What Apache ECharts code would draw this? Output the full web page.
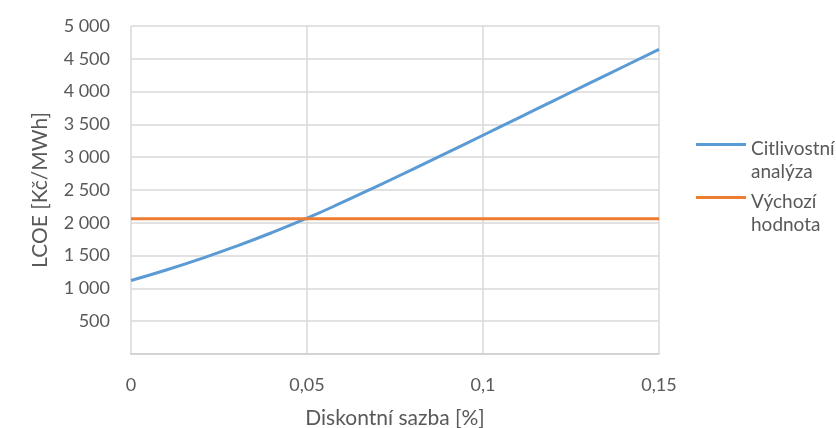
<!DOCTYPE html>
<html>
<head>
<meta charset="utf-8">
<script src="https://cdn.jsdelivr.net/npm/echarts@6/dist/echarts.min.js"></script>
<style>html,body{margin:0;padding:0;background:#fff;}#c{width:836px;height:428px;}</style>
</head>
<body>
<div id="c"></div>
<script>
const rates = [0, 0.01, 0.02, 0.03, 0.04, 0.05, 0.06, 0.07, 0.08, 0.09, 0.10, 0.11, 0.12, 0.13, 0.14, 0.15];
const sensitivity = [1120, 1280, 1455, 1645, 1850, 2070, 2310, 2560, 2815, 3073, 3335, 3597, 3859, 4121, 4383, 4645];
const baseRates = [0, 0.15];
const baseValue = [2060, 2060];
const seriesNames = ['Citlivostní\nanalýza', 'Výchozí\nhodnota'];
const xTitle = 'Diskontní sazba [%]';
const yTitle = 'LCOE [Kč/MWh]';

const txt = '#595959';
const font = 'Lato, "Open Sans", sans-serif';
const chart = echarts.init(document.getElementById('c'));
chart.setOption({
  animation: false,
  grid: { left: 131, right: 177, top: 26, bottom: 74, containLabel: false, outerBoundsMode: 'none' },
  legend: {
    orient: 'vertical', left: 691, top: 132, itemGap: 7,
    itemWidth: 50, itemHeight: 34,
    icon: 'path://M0,0H50V3H0Z M0,33.95H0.02V34H0Z',
    itemStyle: { borderWidth: 0 },
    textStyle: { color: txt, fontSize: 19, lineHeight: 23, fontFamily: font },
    data: seriesNames
  },
  xAxis: {
    type: 'value', min: 0, max: 0.15, interval: 0.05,
    name: xTitle, nameLocation: 'middle', nameGap: 54,
    nameTextStyle: { color: txt, fontSize: 21, fontFamily: font },
    axisLine: { show: true, lineStyle: { color: '#d0d0d0', width: 1.5 } },
    axisTick: { show: false },
    axisLabel: { color: txt, fontSize: 18, fontFamily: font, margin: 22,
      formatter: v => String(Math.round(v * 100) / 100).replace('.', ',') },
    splitLine: { show: true, lineStyle: { color: '#d9d9d9', width: 1.5 } }
  },
  yAxis: {
    type: 'value', min: 0, max: 5000, interval: 500,
    name: yTitle, nameLocation: 'middle', nameGap: 80,
    nameTextStyle: { color: txt, fontSize: 21, fontFamily: font },
    axisLine: { show: false }, axisTick: { show: false },
    axisLabel: { color: txt, fontSize: 18, fontFamily: font, margin: 21,
      formatter: v => v === 0 ? '' : String(v).replace(/\B(?=(\d{3})+(?!\d))/g, ' ') },
    splitLine: { show: true, lineStyle: { color: '#d9d9d9', width: 1.5 } }
  },
  series: [
    { name: seriesNames[0], type: 'line', smooth: true, showSymbol: false, symbol: 'none',
      color: '#5B9BD5', lineStyle: { width: 3, color: '#5B9BD5' },
      data: rates.map((r, i) => [r, sensitivity[i]]) },
    { name: seriesNames[1], type: 'line', showSymbol: false, symbol: 'none',
      color: '#ED7D31', lineStyle: { width: 3, color: '#ED7D31' },
      data: baseRates.map((r, i) => [r, baseValue[i]]) }
  ]
});
</script>
</body>
</html>
